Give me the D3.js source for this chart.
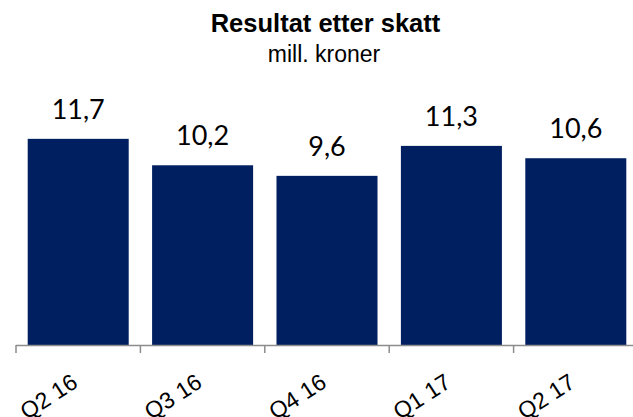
<!DOCTYPE html>
<html>
<head>
<meta charset="utf-8">
<script src="https://cdn.jsdelivr.net/npm/d3@7/dist/d3.min.js"></script>
<style>
  html, body { margin: 0; padding: 0; background: #fff; }
  svg { display: block; }
</style>
</head>
<body>
<div id="chart"></div>
<script>
const categories = ["Q2 16", "Q3 16", "Q4 16", "Q1 17", "Q2 17"];
const values = [11.7, 10.2, 9.6, 11.3, 10.6];
const valueLabels = ["11,7", "10,2", "9,6", "11,3", "10,6"];
const titleText = "Resultat etter skatt";
const subtitleText = "mill. kroner";

const W = 633, H = 417;
const svg = d3.select("#chart").append("svg").attr("width", W).attr("height", H);

const x0 = 16, x1 = 638;
const baseY = 345;

const x = d3.scaleBand().domain(categories).range([x0, x1])
  .paddingInner(0.188).paddingOuter(0.094);
const xTicks = d3.scaleBand().domain(categories).range([x0, x1]).padding(0);
const y = d3.scaleLinear().domain([0, 14]).range([baseY, baseY - 14 * 17.62]);

// title
svg.append("text").attr("x", 325.5).attr("y", 32)
  .attr("text-anchor", "middle")
  .style("font-family", "'Liberation Sans', Arial, sans-serif")
  .style("font-weight", "bold").style("font-size", "25.5px")
  .attr("fill", "#000").text(titleText);
svg.append("text").attr("x", 324).attr("y", 62)
  .attr("text-anchor", "middle")
  .style("font-family", "'Liberation Sans', Arial, sans-serif")
  .style("font-size", "23px")
  .attr("fill", "#000").text(subtitleText);

// bars
svg.selectAll("rect.bar").data(values).join("rect")
  .attr("class", "bar")
  .attr("x", (d, i) => x(categories[i]))
  .attr("width", x.bandwidth())
  .attr("y", d => y(d))
  .attr("height", d => y(0) - y(d))
  .attr("fill", "#001F60");

// value labels
svg.selectAll("text.val").data(values).join("text")
  .attr("class", "val")
  .attr("x", (d, i) => x(categories[i]) + x.bandwidth() / 2)
  .attr("y", d => y(d) - 20)
  .attr("text-anchor", "middle")
  .style("font-family", "Lato, 'Open Sans', sans-serif")
  .style("font-size", "27px")
  .attr("fill", "#000")
  .text((d, i) => valueLabels[i]);

// axis line
svg.append("line").attr("x1", x0).attr("x2", x1)
  .attr("y1", baseY + 0.5).attr("y2", baseY + 0.5)
  .attr("stroke", "#8c8c8c").attr("stroke-width", 1.5);

// ticks at band boundaries
const tickPos = categories.map(c => xTicks(c)).concat([x1]);
svg.selectAll("line.tick").data(tickPos).join("line")
  .attr("class", "tick")
  .attr("x1", d => d).attr("x2", d => d)
  .attr("y1", baseY).attr("y2", baseY + 8)
  .attr("stroke", "#8c8c8c").attr("stroke-width", 1.5);

// category labels (rotated)
const catG = svg.selectAll("g.cat").data(categories).join("g")
  .attr("class", "cat")
  .attr("transform", d => "translate(" + (xTicks(d) + xTicks.bandwidth() / 2 + 1) + ",386)");
catG.append("g")
  .attr("transform", "rotate(-33)")
  .append("text")
  .attr("x", 0).attr("y", 0)
  .attr("text-anchor", "end")
  .style("font-family", "'Liberation Sans', Arial, sans-serif")
  .style("font-size", "23px")
  .attr("fill", "#000")
  .text(d => d);
</script>
</body>
</html>
